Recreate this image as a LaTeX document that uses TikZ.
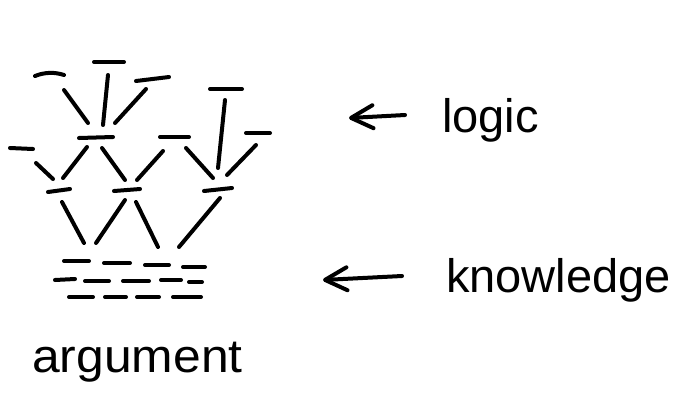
\documentclass[tikz,border=0pt]{standalone}
\usepackage{fontspec}
\setmainfont{Liberation Sans}
\usetikzlibrary{arrows.meta}
\tikzset{
  ink/.style={line width=4pt, line cap=round, black},
  pointer/.style={ink, {Straight Barb[length=22pt,width=23pt,round]}-},
  word/.style={font=\fontsize{47}{50}\selectfont, inner sep=0pt, anchor=base west}
}
\begin{document}
\begin{tikzpicture}[x=1pt,y=-1pt]
\useasboundingbox (0,0) rectangle (700,400);
% --- logic layer: top dashes
\draw[ink] (35,76) .. controls (45,72) and (55,72) .. (64,75);
\draw[ink] (94,62) -- (124,62);
\draw[ink] (136,81) -- (169,77);
\draw[ink] (210,89) -- (242,89);
% top spokes
\draw[ink] (64,90) -- (88,123);
\draw[ink] (108,75) -- (103,125);
\draw[ink] (146,89) -- (115,123);
\draw[ink] (225,100) -- (218,168);
\draw[ink] (256,145) -- (227,175);
% middle dashes
\draw[ink] (79,138) -- (113,137);
\draw[ink] (160,137) -- (189,137);
\draw[ink] (246,133) -- (270,133);
\draw[ink] (10,148) -- (33,149);
% middle spokes
\draw[ink] (87,147) -- (63,178);
\draw[ink] (102,148) -- (125,180);
\draw[ink] (163,151) -- (137,180);
\draw[ink] (186,148) -- (213,178);
\draw[ink] (36,163) -- (53,179);
% third row dashes
\draw[ink] (48,192) -- (70,189);
\draw[ink] (114,191) -- (140,189);
\draw[ink] (204,191) -- (232,188);
% lower spokes
\draw[ink] (62,202) -- (84,243);
\draw[ink] (125,200) -- (96,243);
\draw[ink] (136,202) -- (158,247);
\draw[ink] (220,198) -- (179,247);
% --- knowledge layer: dashes
\draw[ink] (64,261) -- (89,261);
\draw[ink] (104,263) -- (130,263);
\draw[ink] (145,265) -- (169,265);
\draw[ink] (183,267) -- (205,267);
\draw[ink] (55,280) -- (75,279);
\draw[ink] (85,281) -- (109,281);
\draw[ink] (123,281) -- (149,281);
\draw[ink] (161,280) -- (181,280);
\draw[ink] (189,282) -- (202,282);
\draw[ink] (69,297) -- (93,297);
\draw[ink] (105,297) -- (126,297);
\draw[ink] (137,297) -- (159,297);
\draw[ink] (173,297) -- (201,297);
% --- labels
\node[word] (logic) at (442,132) {logic};
\node[word] (knowledge) at (446,292) {knowledge};
\node[word, xscale=1.06] (argument) at (32,372) {argument};
% --- arrows
\coordinate (logicTip) at (349,118);
\coordinate (logicTail) at (405,115);
\coordinate (knowTip) at (323,280);
\coordinate (knowTail) at (402,276);
\draw[pointer] (logicTip) -- (logicTail);
\draw[pointer] (knowTip) -- (knowTail);
\end{tikzpicture}
\end{document}
